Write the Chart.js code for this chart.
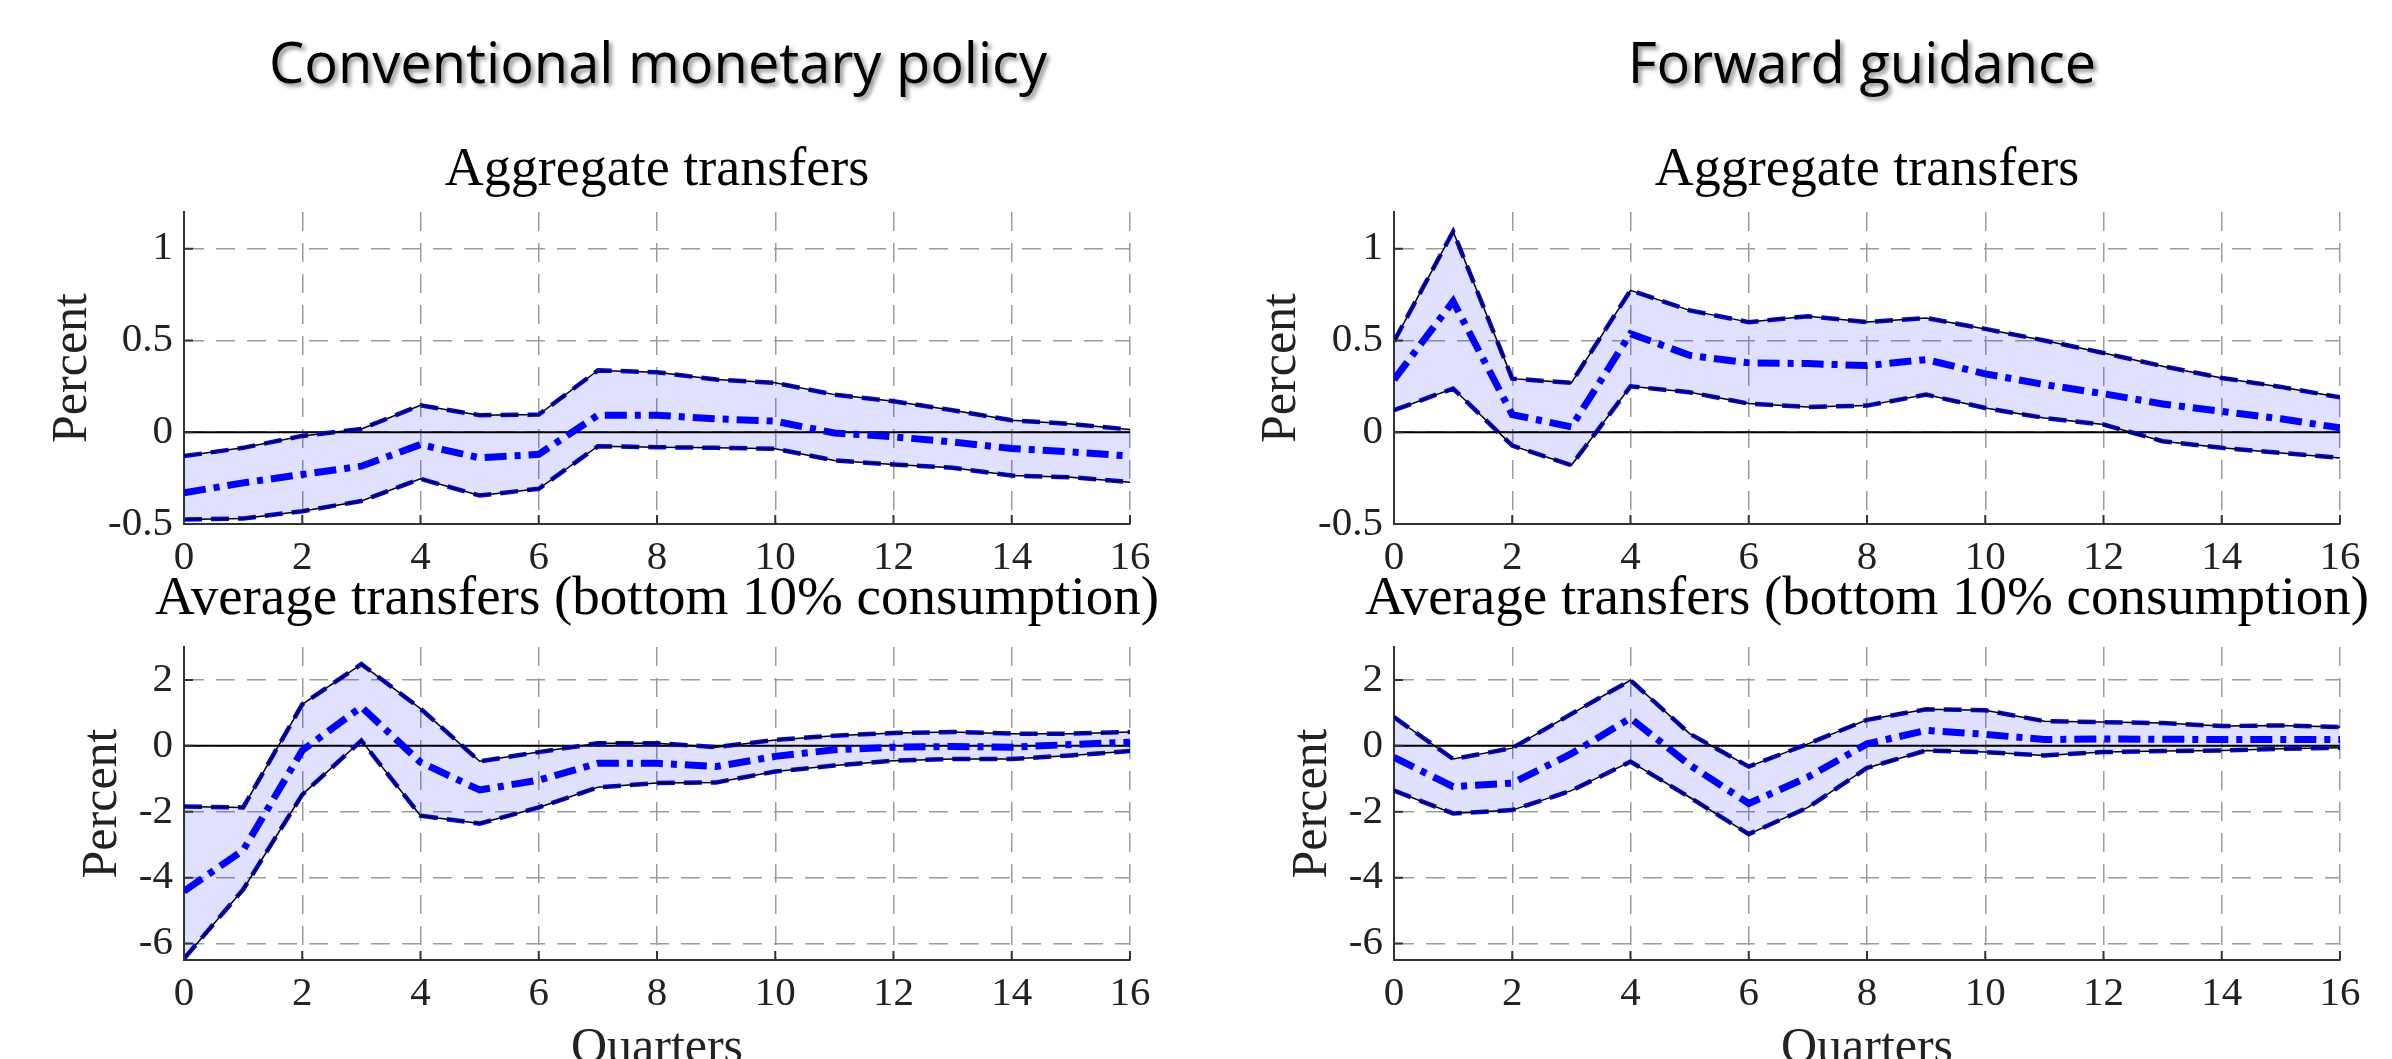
<!DOCTYPE html>
<html>
<head>
<meta charset="utf-8">
<script src="https://cdn.jsdelivr.net/npm/chart.js@4.4.0/dist/chart.umd.min.js"></script>
<style>
html, body { margin: 0; padding: 0; background: #fff; width: 2392px; height: 1059px; overflow: hidden; }
.header {
    position: absolute; top: 33px;
    font-family: "Open Sans"; font-size: 56px; line-height: 56px; color: #000;
    text-shadow: 3px 3px 4px rgba(0, 0, 0, 0.45);
    white-space: nowrap; transform: translateX(-50%);
}
canvas { position: absolute; }
</style>
</head>
<body>
<div class="header" style="left:658px">Conventional monetary policy</div>
<div class="header" style="left:1862px">Forward guidance</div>

<!-- canvases are symmetric around the plot area so the titles centre on it -->
<canvas id="convAgg" width="1314" height="440" style="left:0;top:130px"></canvas>
<canvas id="fgAgg" width="1314" height="440" style="left:1210px;top:130px"></canvas>
<canvas id="convAvg" width="1314" height="520" style="left:0;top:560px"></canvas>
<canvas id="fgAvg" width="1314" height="520" style="left:1210px;top:560px"></canvas>

<script>
// quarters after the shock
const quarters = [0, 1, 2, 3, 4, 5, 6, 7, 8, 9, 10, 11, 12, 13, 14, 15, 16];
const xTicks = [0, 2, 4, 6, 8, 10, 12, 14, 16];
const aggTicks = [-0.5, 0, 0.5, 1];
const avgTicks = [-6, -4, -2, 0, 2];

// Conventional monetary policy - aggregate transfers
const convAggUpper = [-0.13, -0.085, -0.02, 0.018, 0.147, 0.093, 0.096, 0.337, 0.327, 0.287, 0.269, 0.205, 0.169, 0.12, 0.065, 0.045, 0.015];
const convAggMean = [-0.33, -0.276, -0.23, -0.185, -0.067, -0.14, -0.12, 0.093, 0.093, 0.073, 0.06, -0.004, -0.025, -0.053, -0.089, -0.107, -0.13];
const convAggLower = [-0.475, -0.47, -0.43, -0.375, -0.254, -0.345, -0.308, -0.076, -0.082, -0.085, -0.09, -0.154, -0.176, -0.194, -0.236, -0.245, -0.272];

// Forward guidance - aggregate transfers
const fgAggUpper = [0.495, 1.094, 0.292, 0.269, 0.773, 0.664, 0.6, 0.632, 0.6, 0.622, 0.563, 0.5, 0.432, 0.36, 0.296, 0.247, 0.19];
const fgAggMean = [0.287, 0.713, 0.096, 0.029, 0.537, 0.419, 0.378, 0.374, 0.363, 0.396, 0.318, 0.26, 0.21, 0.154, 0.114, 0.073, 0.024];
const fgAggLower = [0.12, 0.238, -0.073, -0.18, 0.25, 0.218, 0.156, 0.138, 0.145, 0.205, 0.132, 0.078, 0.042, -0.049, -0.085, -0.113, -0.14];

// Conventional monetary policy - average transfers, bottom 10%
const convAvgUpper = [-1.84, -1.87, 1.26, 2.48, 1.13, -0.47, -0.19, 0.08, 0.08, -0.04, 0.18, 0.31, 0.39, 0.42, 0.37, 0.37, 0.42];
const convAvgMean = [-4.41, -3.17, -0.14, 1.18, -0.5, -1.34, -1.04, -0.53, -0.53, -0.63, -0.32, -0.12, -0.04, -0.02, -0.04, 0.04, 0.11];
const convAvgLower = [-6.46, -4.36, -1.48, 0.16, -2.12, -2.36, -1.87, -1.26, -1.13, -1.11, -0.78, -0.6, -0.45, -0.4, -0.4, -0.29, -0.16];

// Forward guidance - average transfers, bottom 10%
const fgAvgUpper = [0.87, -0.4, -0.07, 0.97, 1.99, 0.37, -0.63, 0.06, 0.79, 1.11, 1.08, 0.75, 0.72, 0.69, 0.6, 0.62, 0.57];
const fgAvgMean = [-0.35, -1.24, -1.13, -0.24, 0.84, -0.58, -1.75, -0.95, 0.06, 0.47, 0.35, 0.19, 0.21, 0.2, 0.19, 0.19, 0.19];
const fgAvgLower = [-1.36, -2.05, -1.95, -1.36, -0.48, -1.56, -2.68, -1.87, -0.67, -0.14, -0.19, -0.29, -0.19, -0.16, -0.14, -0.09, -0.06];

const serif = 'Liberation Serif';
const blue = '#0000ff';
const bandFill = 'rgba(0, 0, 255, 0.12)';
const gridGray = '#9c9c9c';
const axisGray = '#333333';

function points(values) {
    return quarters.map((q, i) => ({ x: q, y: values[i] }));
}

// zero line + MATLAB style inside ticks
const matlabAxes = {
    id: 'matlabAxes',
    beforeDatasetsDraw(chart) {
        const { ctx, chartArea, scales } = chart;
        const y0 = scales.y.getPixelForValue(0);
        ctx.save();
        ctx.strokeStyle = '#000';
        ctx.lineWidth = 2;
        ctx.beginPath();
        ctx.moveTo(chartArea.left, y0);
        ctx.lineTo(chartArea.right, y0);
        ctx.stroke();
        ctx.restore();
    },
    afterDraw(chart) {
        const { ctx, chartArea, scales } = chart;
        ctx.save();
        ctx.strokeStyle = axisGray;
        ctx.lineWidth = 2;
        ctx.beginPath();
        scales.x.ticks.forEach(t => {
            const px = scales.x.getPixelForValue(t.value);
            ctx.moveTo(px, chartArea.bottom);
            ctx.lineTo(px, chartArea.bottom - 9);
        });
        scales.y.ticks.forEach(t => {
            const py = scales.y.getPixelForValue(t.value);
            ctx.moveTo(chartArea.left, py);
            ctx.lineTo(chartArea.left + 9, py);
        });
        ctx.stroke();
        ctx.restore();
    }
};

function makePanel(id, cfg) {
    const ctx = document.getElementById(id);
    return new Chart(ctx, {
        type: 'line',
        data: {
            datasets: [
                { data: points(cfg.lower), borderColor: blue, borderWidth: 4.5, borderDash: [18, 9], fill: false, order: 3 },
                { data: points(cfg.upper), borderColor: blue, borderWidth: 4.5, borderDash: [18, 9], fill: '-1', backgroundColor: bandFill, order: 3 },
                { data: points(cfg.lower), borderColor: '#000', borderWidth: 1.5, fill: false, order: 2 },
                { data: points(cfg.upper), borderColor: '#000', borderWidth: 1.5, fill: false, order: 2 },
                { data: points(cfg.mean), borderColor: blue, borderWidth: 7, borderDash: [22, 8, 6, 8], fill: false, order: 1 }
            ]
        },
        options: {
            responsive: false,
            animation: false,
            elements: { point: { radius: 0 }, line: { tension: 0, borderCapStyle: 'butt' } },
            layout: { padding: 0 },
            plugins: {
                legend: { display: false },
                tooltip: { enabled: false },
                filler: { drawTime: 'beforeDatasetsDraw' },
                title: {
                    display: true,
                    text: cfg.title,
                    color: '#000',
                    font: { family: serif, size: cfg.titleSize, weight: 'normal', lineHeight: 1 },
                    padding: cfg.titlePad
                }
            },
            scales: {
                x: {
                    type: 'linear',
                    min: 0,
                    max: 16,
                    afterBuildTicks: s => { s.ticks = xTicks.map(v => ({ value: v })); },
                    afterFit: s => { s.height = cfg.xHeight; },
                    grid: { color: gridGray, lineWidth: 1.5, drawTicks: false },
                    border: { display: true, color: axisGray, width: 2, dash: [19, 12] },
                    ticks: { color: '#222', padding: 9.5, font: { family: serif, size: 41 }, callback: v => String(v) },
                    title: {
                        display: !!cfg.xTitle,
                        text: cfg.xTitle || '',
                        color: '#222',
                        font: { family: serif, size: 50, lineHeight: 1 },
                        padding: { top: 0, bottom: 6 }
                    }
                },
                y: {
                    min: cfg.yMin,
                    max: cfg.yMax,
                    afterBuildTicks: s => { s.ticks = cfg.yTicks.map(v => ({ value: v })); },
                    afterFit: s => { s.width = 184; },
                    grid: { color: gridGray, lineWidth: 1.5, drawTicks: false },
                    border: { display: true, color: axisGray, width: 2, dash: [19, 12] },
                    ticks: { color: '#222', padding: 11, font: { family: serif, size: 41 }, callback: v => String(v) },
                    title: {
                        display: true,
                        text: 'Percent',
                        color: '#222',
                        font: { family: serif, size: 50, lineHeight: 1 },
                        padding: { top: cfg.yTitlePad, bottom: 0 }
                    }
                },
                // empty right-hand axis, keeps the plot centred under its title
                ySpacer: {
                    position: 'right',
                    min: cfg.yMin,
                    max: cfg.yMax,
                    afterFit: s => { s.width = 184; },
                    ticks: { display: false },
                    grid: { display: false },
                    border: { display: false }
                }
            }
        },
        plugins: [matlabAxes]
    });
}

makePanel('convAgg', {
    title: 'Aggregate transfers', titleSize: 54, titlePad: { top: 14, bottom: 14 },
    upper: convAggUpper, mean: convAggMean, lower: convAggLower,
    yMin: -0.5, yMax: 1.2, yTicks: aggTicks, xHeight: 46, yTitlePad: 48
});
makePanel('fgAgg', {
    title: 'Aggregate transfers', titleSize: 54, titlePad: { top: 14, bottom: 14 },
    upper: fgAggUpper, mean: fgAggMean, lower: fgAggLower,
    yMin: -0.5, yMax: 1.2, yTicks: aggTicks, xHeight: 46, yTitlePad: 47
});
makePanel('convAvg', {
    title: 'Average transfers (bottom 10% consumption)', titleSize: 55, titlePad: { top: 12.5, bottom: 19.5 },
    upper: convAvgUpper, mean: convAvgMean, lower: convAvgLower,
    yMin: -6.5, yMax: 3, yTicks: avgTicks, xHeight: 120, yTitlePad: 78, xTitle: 'Quarters'
});
makePanel('fgAvg', {
    title: 'Average transfers (bottom 10% consumption)', titleSize: 55, titlePad: { top: 12.5, bottom: 19.5 },
    upper: fgAvgUpper, mean: fgAvgMean, lower: fgAvgLower,
    yMin: -6.5, yMax: 3, yTicks: avgTicks, xHeight: 120, yTitlePad: 78, xTitle: 'Quarters'
});
</script>
</body>
</html>
